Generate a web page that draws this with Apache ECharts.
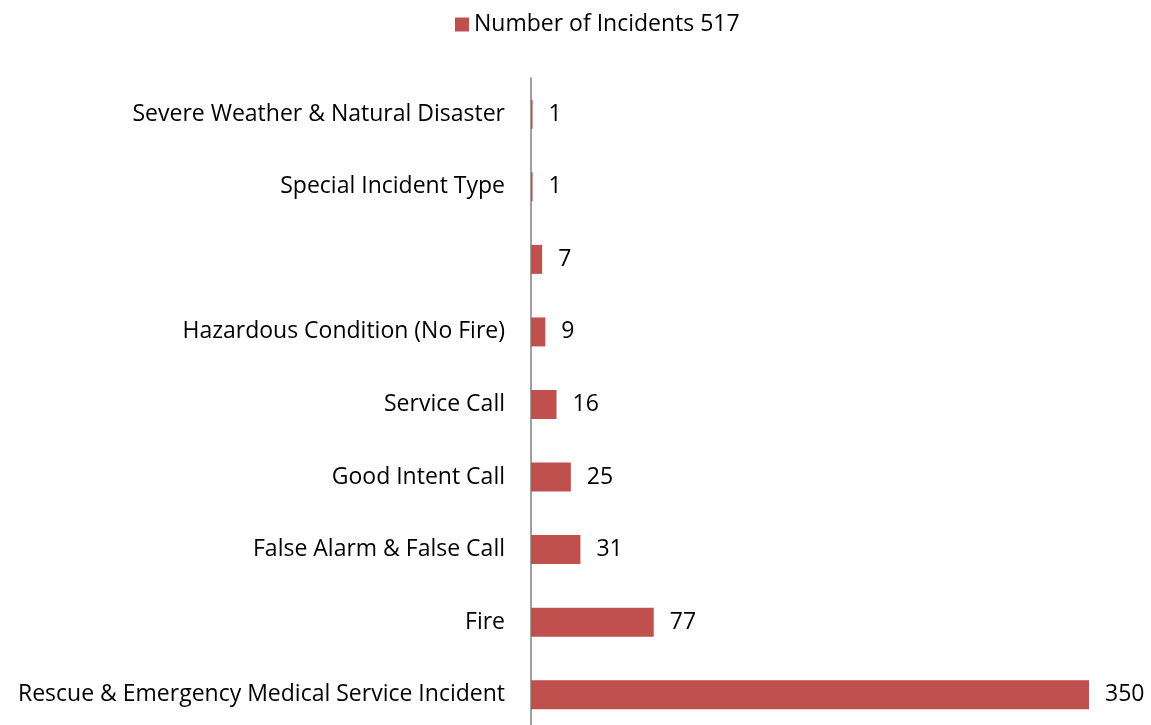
<!DOCTYPE html>
<html>
<head>
<meta charset="utf-8">
<script src="https://cdn.jsdelivr.net/npm/echarts@6/dist/echarts.min.js"></script>
<style>
  html, body { margin: 0; padding: 0; background: #fff; }
  #chart { width: 1151px; height: 725px; }
</style>
</head>
<body>
<div id="chart"></div>
<script>
// data (bottom to top)
const categories = [
  'Rescue & Emergency Medical Service Incident',
  'Fire',
  'False Alarm & False Call',
  'Good Intent Call',
  'Service Call',
  'Hazardous Condition (No Fire)',
  '',
  'Special Incident Type',
  'Severe Weather & Natural Disaster'
]
const incidents = [350, 77, 31, 25, 16, 9, 7, 1, 1]
const seriesName = 'Number of Incidents 517'

const font = '"Open Sans", sans-serif'
const chart = echarts.init(document.getElementById('chart'))

chart.setOption({
  animation: false,
  legend: {
    top: 8,
    left: 450,
    itemWidth: 14,
    itemHeight: 14,
    itemGap: 8,
    icon: 'rect',
    textStyle: { fontFamily: font, fontSize: 23, color: '#000' },
    data: [seriesName]
  },
  grid: {
    left: 531,
    right: 62,
    top: 78,
    height: 653,
    outerBoundsMode: 'none',
    containLabel: false
  },
  xAxis: {
    type: 'value',
    min: 0,
    max: 350,
    show: false
  },
  yAxis: {
    type: 'category',
    data: categories,
    axisLine: { show: true, lineStyle: { color: '#A0A0A0', width: 2 } },
    axisTick: { show: false },
    axisLabel: {
      color: '#000',
      fontFamily: font,
      fontSize: 23,
      margin: 26,
      interval: 0
    }
  },
  series: [{
    name: seriesName,
    type: 'bar',
    data: incidents,
    barWidth: 29,
    itemStyle: { color: '#C0504D' },
    label: {
      show: true,
      position: 'right',
      distance: 16,
      color: '#000',
      fontFamily: font,
      fontSize: 23
    }
  }]
})
</script>
</body>
</html>
